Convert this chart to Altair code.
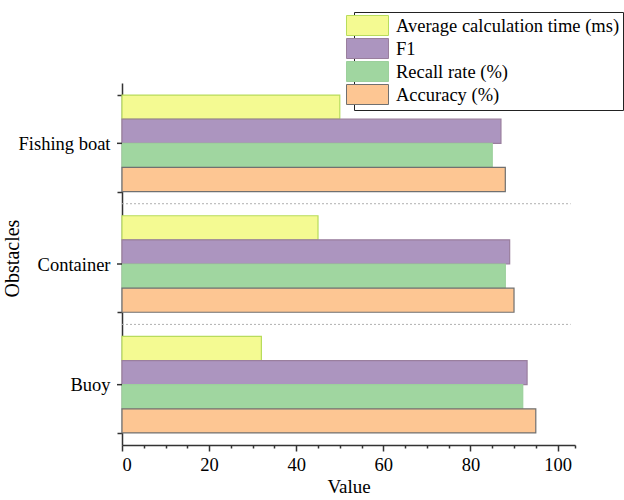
import altair as alt
import pandas as pd

categories = ["Fishing boat", "Container", "Buoy"]
series = ["Average calculation time (ms)", "F1", "Recall rate (%)", "Accuracy (%)"]
avg_time = [50, 45, 32]
f1 = [87, 89, 93]
recall = [85, 88, 92]
accuracy = [88, 90, 95]
x_major = [0, 20, 40, 60, 80, 100]
x_minor = [5, 10, 15, 25, 30, 35, 45, 50, 55, 65, 70, 75, 85, 90, 95, 104]
separators = ["Container", "Buoy"]
fill_colors = ["#F4FA92", "#AC95BF", "#A0D6A0", "#FDC693"]
stroke_colors = ["#B8DC5C", "#9A7F9E", "#9CD09C", "#707070"]

rows = []
for i, c in enumerate(categories):
    for s, vals in zip(series, [avg_time, f1, recall, accuracy]):
        rows.append({"Obstacle": c, "Metric": s, "Value": vals[i]})
df = pd.DataFrame(rows)

FONT = "Liberation Serif"
yscale = alt.Scale(domain=categories, paddingInner=0.2, paddingOuter=0.1)
xscale = alt.Scale(domain=[0, 104], nice=False, zero=True)

bars = alt.Chart(df).mark_bar(strokeWidth=1.2).encode(
    x=alt.X("Value:Q", scale=xscale,
            axis=alt.Axis(values=x_major, title="Value", grid=False, tickSize=6,
                          labelFont=FONT, titleFont=FONT,
                          labelFontSize=18.5, titleFontSize=19, labelPadding=4,
                          titlePadding=4, domainColor="#333", tickColor="#333",
                          domainWidth=1.5, tickWidth=1.5)),
    y=alt.Y("Obstacle:N", scale=yscale, sort=categories,
            axis=alt.Axis(title="Obstacles", tickBand="extent", grid=False, tickSize=5,
                          labelFont=FONT, titleFont=FONT,
                          labelFontSize=18.5, titleFontSize=20, labelPadding=7,
                          titleX=-100, titleY=175, domainColor="#333", tickColor="#333",
                          domainWidth=1.5, tickWidth=1.5)),
    yOffset=alt.YOffset("Metric:N", sort=series,
                        scale=alt.Scale(domain=series, paddingInner=0, paddingOuter=0)),
    fill=alt.Fill("Metric:N", scale=alt.Scale(domain=series, range=fill_colors),
                  legend=alt.Legend(orient="none", legendX=232, legendY=-71, title=None,
                                    strokeColor="#222", fillColor="white", padding=3,
                                    labelFont=FONT, labelFontSize=18.5, labelColor="black",
                                    labelLimit=400,
                                    symbolType="M-2.1,-1H2.1V1H-2.1Z", symbolSize=400,
                                    symbolStrokeWidth=1, labelOffset=18, rowPadding=-3)),
    stroke=alt.Stroke("Metric:N", scale=alt.Scale(domain=series, range=stroke_colors)),
)

center_ticks = alt.Chart(pd.DataFrame({"Obstacle": categories})).mark_rule(
    color="#333", strokeWidth=1.5
).encode(
    y=alt.Y("Obstacle:N", scale=yscale, sort=categories, bandPosition=0.5),
    x=alt.value(-5),
    x2=alt.value(0),
)

sep = alt.Chart(pd.DataFrame({"Obstacle": separators})).mark_rule(
    color="#b0b0b0", strokeDash=[2, 2], strokeWidth=1, yOffset=-12
).encode(
    y=alt.Y("Obstacle:N", scale=yscale, sort=categories, bandPosition=0),
    x=alt.X(datum=0, scale=xscale,
            axis=alt.Axis(values=x_minor, labels=False, tickSize=3, domain=False,
                          grid=False, orient="bottom", title=None, tickColor="#333",
                          tickWidth=1.5)),
    x2=alt.X2(datum=103),
)

chart = alt.layer(bars, sep, center_ticks).resolve_axis(x="independent").properties(
    width=453, height=362,
    autosize=alt.AutoSizeParams(type="none"),
    padding={"left": 122, "top": 83, "right": 49, "bottom": 55},
).configure(
    font=FONT,
    view=alt.ViewConfig(stroke=None),
    axis=alt.AxisConfig(labelFont=FONT, titleFont=FONT, labelColor="black",
                        titleColor="black", titleFontWeight="normal"),
    legend=alt.LegendConfig(labelFont=FONT),
    style={"guide-label": {"font": FONT}, "guide-title": {"font": FONT}},
)

chart.save("out.html", embed_options={"renderer": "svg", "actions": False})
